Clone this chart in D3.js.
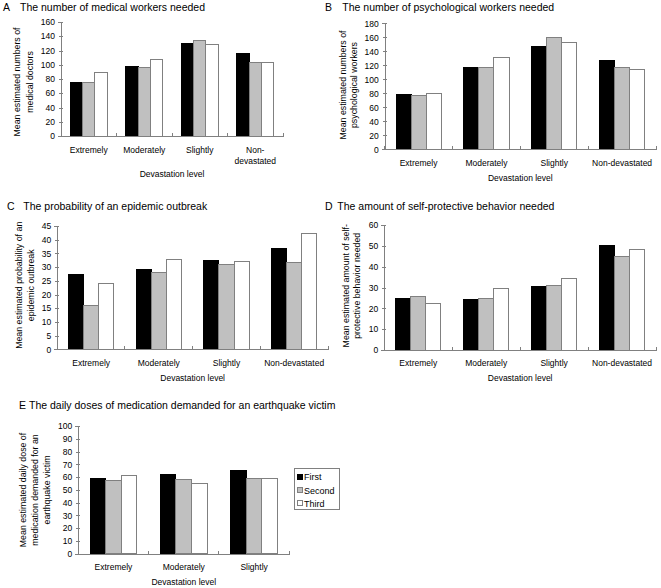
<!DOCTYPE html>
<html><head><meta charset="utf-8">
<script src="https://cdn.jsdelivr.net/npm/d3@7/dist/d3.min.js"></script>
<style>
body{margin:0;background:#fff;}
svg{display:block;font-family:"Liberation Sans",Arial,sans-serif;}
</style></head>
<body><svg id="c" width="661" height="588"></svg>
<script>
const seriesNames = ["First", "Second", "Third"];
const seriesColors = ["#000000", "#c0c0c0", "#ffffff"];
const seriesStrokes = ["#000000", "#808080", "#808080"];
const categories4 = ["Extremely", "Moderately", "Slightly", "Non-devastated"];
const categories3 = ["Extremely", "Moderately", "Slightly"];

const medicalValues = [[75, 75, 89], [98, 96, 107], [130, 134.5, 128.5], [116, 103.5, 103.5]];
const psychValues = [[78.5, 77, 80], [117, 117, 131.5], [147.5, 160, 153], [127, 117, 114.5]];
const epidemicValues = [[27.2, 16.1, 24.1], [29, 28.1, 32.9], [32.3, 31, 32.1], [36.7, 31.8, 42.3]];
const protectValues = [[24.9, 25.6, 22.3], [24.3, 24.9, 29.7], [30.5, 30.8, 34.4], [50.1, 45.1, 48.2]];
const doseValues = [[59, 57.6, 61.4], [62.3, 58.2, 54.9], [64.9, 59.1, 59.1]];

const ticksA = [0, 20, 40, 60, 80, 100, 120, 140, 160];
const ticksB = [0, 20, 40, 60, 80, 100, 120, 140, 160, 180];
const ticksC = [0, 5, 10, 15, 20, 25, 30, 35, 40, 45];
const ticksD = [0, 10, 20, 30, 40, 50, 60];
const ticksE = [0, 10, 20, 30, 40, 50, 60, 70, 80, 90, 100];

const titlesA = ["A", "The number of medical workers needed"];
const titlesB = ["B", "The number of psychological workers needed"];
const titlesC = ["C", "The probability of an epidemic outbreak"];
const titlesD = ["D", "The amount of self-protective behavior needed"];
const titlesE = ["E", "The daily doses of medication demanded for an earthquake victim"];

const yLabelA = ["Mean estimated numbers of", "medical doctors"];
const yLabelB = ["Mean estimated numbers of", "psychological workers"];
const yLabelC = ["Mean estimated probability of an", "epidemic outbreak"];
const yLabelD = ["Mean estimated amount of self-", "protective behavior needed"];
const yLabelE = ["Mean estimated daily dose of", "medication demanded for an", "earthquake victim"];
const xLabel = "Devastation level";

const svg = d3.select("#c");
const AX = "#808080";

function panel(o) {
  const g = svg.append("g");
  // title
  g.append("text").attr("x", o.tl[0]).attr("y", o.tl[1]).attr("font-size", 10.5).text(o.titles[0]);
  g.append("text").attr("x", o.tl[2]).attr("y", o.tl[1]).attr("font-size", 10.5).text(o.titles[1]);

  const x = d3.scaleBand().domain(o.cats).range([o.left, o.right]).paddingInner(0).paddingOuter(0);
  const xi = d3.scaleBand().domain(seriesNames).range([0, x.bandwidth()]).paddingInner(0).paddingOuter(0.75);
  const y = d3.scaleLinear().domain([0, o.max]).range([o.bottom, o.top]);

  // bars
  o.cats.forEach((c, ci) => {
    seriesNames.forEach((s, si) => {
      const v = o.values[ci][si];
      g.append("rect")
        .attr("x", x(c) + xi(s))
        .attr("y", y(v))
        .attr("width", xi.bandwidth())
        .attr("height", y(0) - y(v))
        .attr("fill", seriesColors[si])
        .attr("stroke", seriesStrokes[si])
        .attr("stroke-width", 1)
        .attr("shape-rendering", "crispEdges");
    });
  });

  // y axis
  const ya = g.append("g").attr("transform", `translate(${o.left},0)`)
    .call(d3.axisLeft(y).tickValues(o.ticks).tickSize(3).tickPadding(4).tickFormat(d3.format("d")));
  ya.select(".domain").attr("stroke", AX).attr("shape-rendering", "crispEdges");
  ya.selectAll(".tick line").attr("stroke", AX).attr("x2", -2).attr("x1", 2).attr("shape-rendering", "crispEdges");
  ya.selectAll(".tick text").attr("font-size", 8.5).attr("fill", "#000").attr("font-family", "Liberation Sans, Arial, sans-serif").attr("x", -6);

  // x axis
  const xa = g.append("g").attr("transform", `translate(0,${o.bottom})`)
    .call(d3.axisBottom(x).tickSize(0).tickFormat(""));
  xa.select(".domain").attr("stroke", AX).attr("shape-rendering", "crispEdges");
  const bounds = o.cats.map(c => x(c)).concat([o.right]);
  xa.selectAll("line.bound").data(bounds).join("line").attr("class", "bound")
    .attr("x1", d => d).attr("x2", d => d).attr("y1", 0).attr("y2", -3)
    .attr("stroke", AX).attr("shape-rendering", "crispEdges");

  // category labels
  o.cats.forEach((c) => {
    const lines = (o.wrap && o.wrap[c]) ? o.wrap[c] : [c];
    lines.forEach((ln, li) => {
      g.append("text").attr("x", x(c) + x.bandwidth() / 2).attr("y", o.catY + li * 11)
        .attr("text-anchor", "middle").attr("dominant-baseline", "central")
        .attr("font-size", 8.5).text(ln);
    });
  });

  // x axis title
  g.append("text").attr("x", (o.left + o.right) / 2).attr("y", o.xtY)
    .attr("text-anchor", "middle").attr("dominant-baseline", "central")
    .attr("font-size", 8.5).text(xLabel);

  // y axis title
  o.ylab.forEach((ln, li) => {
    g.append("text")
      .attr("transform", `translate(${o.ylx[li]},${o.yly}) rotate(-90)`)
      .attr("text-anchor", "middle").attr("dominant-baseline", "central")
      .attr("font-size", 8.8).text(ln);
  });
}

panel({titles: titlesA, tl: [3, 11, 20], cats: categories4, values: medicalValues, ticks: ticksA, max: 160,
  left: 61, right: 283, top: 22, bottom: 136, catY: 150, xtY: 174, ylab: yLabelA, ylx: [17, 30], yly: 82,
  wrap: {"Non-devastated": ["Non-", "devastated"]}});
panel({titles: titlesB, tl: [325, 11, 342.3], cats: categories4, values: psychValues, ticks: ticksB, max: 180,
  left: 384.7, right: 656, top: 23.3, bottom: 149.3, catY: 162.7, xtY: 177.7, ylab: yLabelB, ylx: [342.7, 354], yly: 85});
panel({titles: titlesC, tl: [7, 210, 23.3], cats: categories4, values: epidemicValues, ticks: ticksC, max: 45,
  left: 57.3, right: 328, top: 226, bottom: 349.3, catY: 363.3, xtY: 377.7, ylab: yLabelC, ylx: [19.3, 31.3], yly: 285.3});
panel({titles: titlesD, tl: [325, 210, 337.3], cats: categories4, values: protectValues, ticks: ticksD, max: 60,
  left: 384.3, right: 656, top: 225, bottom: 350, catY: 363.3, xtY: 377.7, ylab: yLabelD, ylx: [346, 357.3], yly: 285.8});
panel({titles: titlesE, tl: [19, 409.3, 29], cats: categories3, values: doseValues, ticks: ticksE, max: 100,
  left: 78.3, right: 289.3, top: 426, bottom: 553.7, catY: 566.7, xtY: 581.7, ylab: yLabelE, ylx: [23.3, 35, 46.7], yly: 490});

// legend
const lg = svg.append("g");
lg.append("rect").attr("x", 294.5).attr("y", 468.5).attr("width", 45).attr("height", 41)
  .attr("fill", "#fff").attr("stroke", AX).attr("shape-rendering", "crispEdges");
const legY = [477, 490.5, 503.5];
seriesNames.forEach((s, i) => {
  lg.append("rect").attr("x", 297.5).attr("y", legY[i] - 3).attr("width", 5).attr("height", 5)
    .attr("fill", seriesColors[i]).attr("stroke", i === 0 ? "#000" : AX).attr("shape-rendering", "crispEdges");
  lg.append("text").attr("x", 304).attr("y", legY[i]).attr("dominant-baseline", "central")
    .attr("font-size", 9).text(s);
});
</script></body></html>
